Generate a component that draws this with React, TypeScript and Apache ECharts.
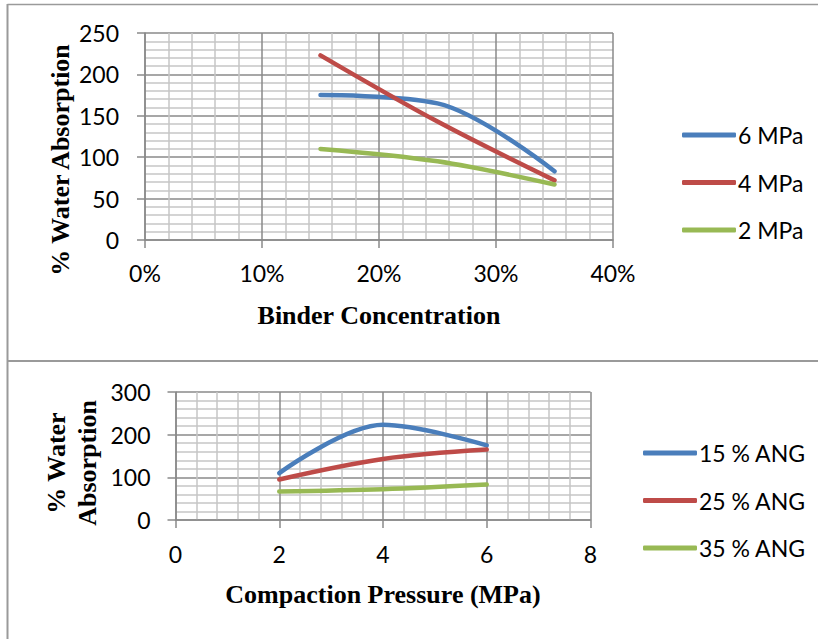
import React, { useEffect, useRef } from 'react';
import * as echarts from 'echarts';

// Top chart: binder concentration (%) vs water absorption
const binderConc = [15, 25, 35];
const mpa6 = [175, 165, 83];
const mpa4 = [223, 143, 72];
const mpa2 = [110, 95, 67];
const topSeriesNames = ['6 MPa', '4 MPa', '2 MPa'];

// Bottom chart: compaction pressure (MPa) vs water absorption
const pressure = [2, 4, 6];
const ang15 = [110, 223, 175];
const ang25 = [95, 143, 165];
const ang35 = [67, 72, 83];
const bottomSeriesNames = ['15 % ANG', '25 % ANG', '35 % ANG'];

const colors = ['#4A7EBB', '#BE4B48', '#98B954'];

const TICK_FONT = 'Lato, "Liberation Sans", sans-serif';
const TITLE_FONT = '"Liberation Serif", "DejaVu Serif", serif';
const MAJOR = '#8a8a8a';
const MINOR = '#c6c6c6';
const BORDER = '#9a9a9a';

const zip = (xs: number[], ys: number[]) => xs.map((x, i) => [x, ys[i]]);

function valueAxis(gridIndex: number, min: number, max: number, interval: number, isX: boolean, margin: number, formatter?: string) {
  return {
    type: 'value',
    gridIndex,
    min,
    max,
    interval,
    axisLine: { show: true, onZero: false, lineStyle: { color: MAJOR, width: 1.5 } },
    axisTick: { show: true, inside: false, length: 8, lineStyle: { color: MAJOR, width: 1.5 } },
    axisLabel: {
      color: '#000',
      fontFamily: TICK_FONT,
      fontSize: 23,
      margin,
      formatter: formatter || '{value}',
    },
    splitLine: { show: true, lineStyle: { color: MAJOR, width: 1.5 } },
    minorTick: { show: false, splitNumber: 5 },
    minorSplitLine: { show: true, lineStyle: { color: MINOR, width: 1.5 } },
  };
}

function lineSeries(name: string, data: number[][], color: string, xAxisIndex: number, yAxisIndex: number) {
  return {
    type: 'line',
    name,
    xAxisIndex,
    yAxisIndex,
    data,
    smooth: 0.34,
    showSymbol: false,
    symbol: 'none',
    color,
    lineStyle: { color, width: 4.5, cap: 'round' },
    itemStyle: { color },
  };
}

function legend(names: string[], left: number, top: number) {
  return {
    data: names,
    orient: 'vertical',
    left,
    top,
    icon: 'roundRect',
    itemWidth: 54,
    itemHeight: 5,
    itemGap: 23.5,
    textStyle: { color: '#000', fontFamily: TICK_FONT, fontSize: 23, lineHeight: 24, padding: [0, 0, 0, -3] },
  };
}

export default function App() {
  const ref = useRef<HTMLDivElement>(null);

  useEffect(() => {
    if (!ref.current) return;
    const chart = echarts.init(ref.current, null, { renderer: 'svg' });
    const option = {
      animation: false,
      backgroundColor: '#ffffff',
      grid: [
        { left: 145, top: 33, width: 468, height: 207, containLabel: false },
        { left: 175.5, top: 392, width: 415, height: 128, containLabel: false },
      ],
      xAxis: [
        valueAxis(0, 0, 40, 10, true, 21, '{value}%'),
        valueAxis(1, 0, 8, 2, true, 22),
      ],
      yAxis: [
        valueAxis(0, 0, 250, 50, false, 26),
        valueAxis(1, 0, 300, 100, false, 25),
      ],
      legend: [
        legend(topSeriesNames, 677, 118),
        legend(bottomSeriesNames, 638, 436),
      ],
      series: [
        lineSeries(topSeriesNames[0], zip(binderConc, mpa6), colors[0], 0, 0),
        lineSeries(topSeriesNames[1], zip(binderConc, mpa4), colors[1], 0, 0),
        lineSeries(topSeriesNames[2], zip(binderConc, mpa2), colors[2], 0, 0),
        lineSeries(bottomSeriesNames[0], zip(pressure, ang15), colors[0], 1, 1),
        lineSeries(bottomSeriesNames[1], zip(pressure, ang25), colors[1], 1, 1),
        lineSeries(bottomSeriesNames[2], zip(pressure, ang35), colors[2], 1, 1),
      ],
      graphic: [
        // table cell borders
        { type: 'line', shape: { x1: 7.5, y1: 4.5, x2: 818, y2: 4.5 }, style: { stroke: BORDER, lineWidth: 1.5 } },
        { type: 'line', shape: { x1: 7.5, y1: 4, x2: 7.5, y2: 639 }, style: { stroke: BORDER, lineWidth: 2 } },
        { type: 'line', shape: { x1: 7, y1: 361, x2: 818, y2: 361 }, style: { stroke: BORDER, lineWidth: 2 } },
        // axis titles
        {
          type: 'text', x: 60, y: 160, rotation: Math.PI / 2,
          style: { text: '% Water Absorption', fontFamily: TITLE_FONT, fontWeight: 'bold', fontSize: 26, fill: '#000', align: 'center', verticalAlign: 'middle' },
        },
        {
          type: 'text', x: 379, y: 315,
          style: { text: 'Binder Concentration', fontFamily: TITLE_FONT, fontWeight: 'bold', fontSize: 26, fill: '#000', align: 'center', verticalAlign: 'middle' },
        },
        {
          type: 'text', x: 72, y: 463, rotation: Math.PI / 2,
          style: { text: '% Water\nAbsorption', fontFamily: TITLE_FONT, fontWeight: 'bold', fontSize: 26, lineHeight: 31, fill: '#000', align: 'center', verticalAlign: 'middle' },
        },
        {
          type: 'text', x: 383, y: 594,
          style: { text: 'Compaction Pressure (MPa)', fontFamily: TITLE_FONT, fontWeight: 'bold', fontSize: 26, fill: '#000', align: 'center', verticalAlign: 'middle' },
        },
      ],
    };
    chart.setOption(option as any);
    return () => chart.dispose();
  }, []);

  return (
    <div
      ref={ref}
      style={{ position: 'absolute', left: 0, top: 0, width: 818, height: 639, background: '#fff' }}
    />
  );
}
